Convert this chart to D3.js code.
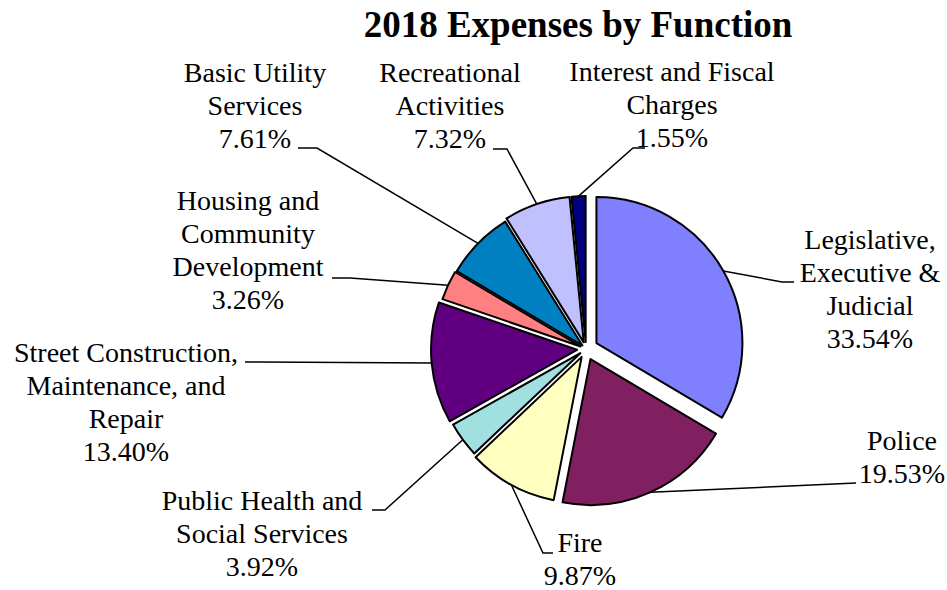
<!DOCTYPE html>
<html>
<head>
<meta charset="utf-8">
<script src="https://cdn.jsdelivr.net/npm/d3@7"></script>
</head>
<body style="margin:0">
<svg id="chart" width="947" height="590"></svg>
<script>
// ---- data ----
const chartTitle = "2018 Expenses by Function";
const categories = [
  "Legislative, Executive & Judicial",
  "Police",
  "Fire",
  "Public Health and Social Services",
  "Street Construction, Maintenance, and Repair",
  "Housing and Community Development",
  "Basic Utility Services",
  "Recreational Activities",
  "Interest and Fiscal Charges"
];
const values = [33.54, 19.53, 9.87, 3.92, 13.40, 3.26, 7.61, 7.32, 1.55];
const labelLines = [
  ["Legislative,", "Executive &", "Judicial"],
  ["Police"],
  ["Fire"],
  ["Public Health and", "Social Services"],
  ["Street Construction,", "Maintenance, and", "Repair"],
  ["Housing and", "Community", "Development"],
  ["Basic Utility", "Services"],
  ["Recreational", "Activities"],
  ["Interest and Fiscal", "Charges"]
];
const colors = ["#8080FF", "#802060", "#FFFFC0", "#A0E0E0", "#600080", "#FF8080", "#0080C0", "#C0C0FF", "#000080"];

// ---- layout ----
const cx = 586, cy = 349, R = 146;
const explode = [12, 11, 9, 7, 9, 6, 5, 7, 7];
const labelPos = [
  {x: 870, y: 249, elbow: [782, 282], end: [794, 282]},
  {x: 902, y: 450, elbow: [856, 483], end: [856, 483]},
  {x: 580, y: 552, elbow: [543, 553], end: [553, 553]},
  {x: 262, y: 510, elbow: [385, 510], end: [372, 510]},
  {x: 126, y: 362, elbow: [260, 362], end: [245, 362]},
  {x: 248, y: 210, elbow: [350, 278], end: [332, 278]},
  {x: 255, y: 82,  elbow: [317, 148], end: [298, 148]},
  {x: 450, y: 82,  elbow: [507, 149], end: [493, 149]},
  {x: 672, y: 81,  elbow: [633, 148], end: [645, 148]}
];
const lineH = 33;
const serifStyle = "font-family:'Times New Roman','Liberation Serif',Tinos,serif";

const svg = d3.select("#chart");

const pie = d3.pie().sort(null).value(d => d).startAngle(0).endAngle(2 * Math.PI);
const arcs = pie(values);
const arc = d3.arc().innerRadius(0).outerRadius(R);

arcs.forEach((a, i) => {
  const mid = (a.startAngle + a.endAngle) / 2;
  a.dx = Math.sin(mid) * explode[i];
  a.dy = -Math.cos(mid) * explode[i];
  a.mid = mid;
});

// leader lines
arcs.forEach((a, i) => {
  const sx = cx + a.dx + Math.sin(a.mid) * R;
  const sy = cy + a.dy - Math.cos(a.mid) * R;
  const p = labelPos[i];
  svg.append("polyline")
    .attr("points", [[sx, sy], p.elbow, p.end].map(q => q.join(",")).join(" "))
    .attr("fill", "none")
    .attr("stroke", "#000")
    .attr("stroke-width", 1.5);
});

const g = svg.append("g").attr("transform", `translate(${cx},${cy})`);
g.selectAll("path.slice")
  .data(arcs)
  .join("path")
  .attr("class", "slice")
  .attr("transform", d => `translate(${d.dx},${d.dy})`)
  .attr("d", arc)
  .attr("fill", (d, i) => colors[i])
  .attr("stroke", "#000")
  .attr("stroke-width", 2)
  .attr("stroke-linejoin", "round");

// title
svg.append("text")
  .attr("x", 578).attr("y", 37)
  .attr("text-anchor", "middle")
  .attr("style", serifStyle)
  .attr("font-size", 37).attr("font-weight", "bold")
  .text(chartTitle);

// labels: one text element per line
arcs.forEach((a, i) => {
  const p = labelPos[i];
  const lines = labelLines[i].concat([values[i].toFixed(2) + "%"]);
  lines.forEach((ln, k) => {
    svg.append("text")
      .attr("x", p.x).attr("y", p.y + k * lineH)
      .attr("text-anchor", "middle")
      .attr("style", serifStyle)
      .attr("font-size", 28)
      .text(ln);
  });
});
</script>
</body>
</html>
